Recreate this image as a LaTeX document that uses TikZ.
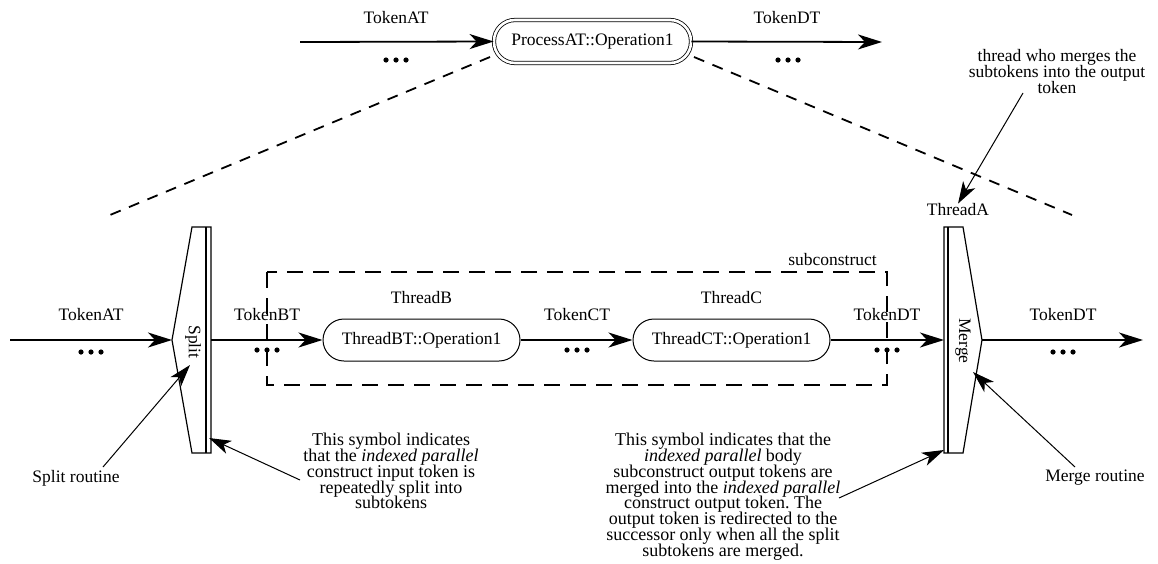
\documentclass[tikz,border=0pt]{standalone}
\usepackage{fontspec}
\setmainfont{Liberation Serif}
\usetikzlibrary{arrows.meta}
% fixed line pitch for the multi-line notes, even where glyphs touch
\newcommand\notepitch{\lineskiplimit=-20pt\relax\lineskip=0pt\relax\frenchspacing}
\begin{document}
\begin{tikzpicture}[x=1pt,y=-1pt,
  every node/.style={font=\fontsize{17.5}{15}\selectfont, inner sep=0pt},
  notetext/.style={align=center, anchor=north,
    font=\fontsize{18}{15.8}\selectfont\notepitch},
  proc/.style={draw, double, double distance=2.6pt, line width=0.8pt,
    rounded corners=21pt, minimum width=197pt, minimum height=43pt},
  thr/.style={draw, line width=1pt, rounded corners=21pt,
    minimum width=197pt, minimum height=42pt},
  tok/.style={line width=1.8pt, -{Stealth[length=24pt,width=15pt,inset=7pt]}},
  note/.style={line width=1pt, -{Stealth[length=22pt,width=14pt,inset=6pt]}},
  fold/.style={line width=1.8pt, dash pattern=on 11pt off 9pt},
  subbox/.style={line width=1.6pt, dash pattern=on 16pt off 10pt},
  bar/.style={line width=1.2pt, line join=miter},
  tdots/.pic={\foreach \i in {-10,0,10} \fill (\i,0) circle (2.6pt);}
]
\useasboundingbox (0,0) rectangle (1158,563);

% ---------- top level: the indexed parallel construct as one operation
\coordinate (tin) at (300,42);
\coordinate (tout) at (882,42);
\node[proc] (pa) at (592.5,41.5) {ProcessAT::Operation1};
\draw[tok] (tin) -- (pa.west);
\draw[tok] (pa.east) -- (tout);
\node (lTA) at (396,18) {TokenAT};
\node (lTD) at (787,18) {TokenDT};
\pic at (396,60) {tdots};
\pic at (788,60) {tdots};

% ---------- fold-out lines towards the expanded view
\coordinate (fl0) at (490,57);
\coordinate (fl1) at (110,215);
\coordinate (fr0) at (694,57);
\coordinate (fr1) at (1072,215);
\draw[fold] (fl0) -- (fl1);
\draw[fold] (fr0) -- (fr1);

% ---------- split symbol
\draw[bar] (192,227) -- (211,227) -- (211,453) -- (192,453) -- (172,340) -- cycle;
\draw[bar] (206,227) -- (206,453);
\coordinate (sptip) at (172,340);
\coordinate (spout) at (211,340);
\node[rotate=-90] (sptxt) at (193,342) {Split};

% ---------- merge symbol
\draw[bar] (944,227) -- (963,227) -- (982,340) -- (963,453) -- (944,453) -- cycle;
\draw[bar] (948,227) -- (948,453);
\coordinate (mgin) at (944,340);
\coordinate (mgtip) at (982,340);
\node[rotate=-90] (mgtxt) at (963,341) {Merge};
\node (ta) at (958,210) {ThreadA};

% ---------- subconstruct
\draw[subbox] (267,272) rectangle (887,385);
\node[anchor=east] (sub) at (877,260) {subconstruct};

\node[thr] (tb) at (421.5,340) {ThreadBT::Operation1};
\node[thr] (tc) at (731.5,340) {ThreadCT::Operation1};
\node (lB) at (421.5,298) {ThreadB};
\node (lC) at (731.5,298) {ThreadC};

% ---------- token flow through the expanded view
\coordinate (min) at (10,340);
\coordinate (mout) at (1143,340);
\draw[tok] (min) -- (sptip);
\draw[tok] (spout) -- (tb.west);
\draw[tok] (tb.east) -- (tc.west);
\draw[tok] (tc.east) -- (mgin);
\draw[tok] (mgtip) -- (mout);

\node (l1) at (91,315) {TokenAT};
\node (l2) at (267,315) {TokenBT};
\node (l3) at (577,315) {TokenCT};
\node (l4) at (887,315) {TokenDT};
\node (l5) at (1063,315) {TokenDT};
\pic at (91,352) {tdots};
\pic at (267,350) {tdots};
\pic at (577,350) {tdots};
\pic at (887,350) {tdots};
\pic at (1063,352) {tdots};

% ---------- annotations
\node[notetext, font=\fontsize{17.5}{16.2}\selectfont\notepitch] (nA) at (1057,49)
  {thread who merges the\\subtokens into the output\\token};
\coordinate (nAs) at (1023,93);
\draw[note] (nAs) -- (ta.north);

\node (sr) at (76,478) {Split routine};
\coordinate (srs) at (103,467);
\coordinate (srt) at (190,365);
\draw[note] (srs) -- (srt);

\node (mr) at (1095,478) {Merge routine};
\coordinate (mrs) at (1075,467);
\coordinate (mrt) at (973,372);
\draw[note] (mrs) -- (mrt);

\node[notetext] (ns) at (391,433) {This symbol indicates\\that the \textit{indexed parallel}\\construct input token is\\repeatedly split into\\subtokens};
\coordinate (nss) at (300,480);
\coordinate (nst) at (209,438);
\draw[note] (nss) -- (nst);

\node[notetext] (nm) at (723,433) {This symbol indicates that the\\\textit{indexed parallel} body\\subconstruct output tokens are\\merged into the \textit{indexed parallel}\\construct output token. The\\output token is redirected to the\\successor only when all the split\\subtokens are merged.};
\coordinate (nms) at (839,498);
\coordinate (nmt) at (944,450);
\draw[note] (nms) -- (nmt);
\end{tikzpicture}
\end{document}
